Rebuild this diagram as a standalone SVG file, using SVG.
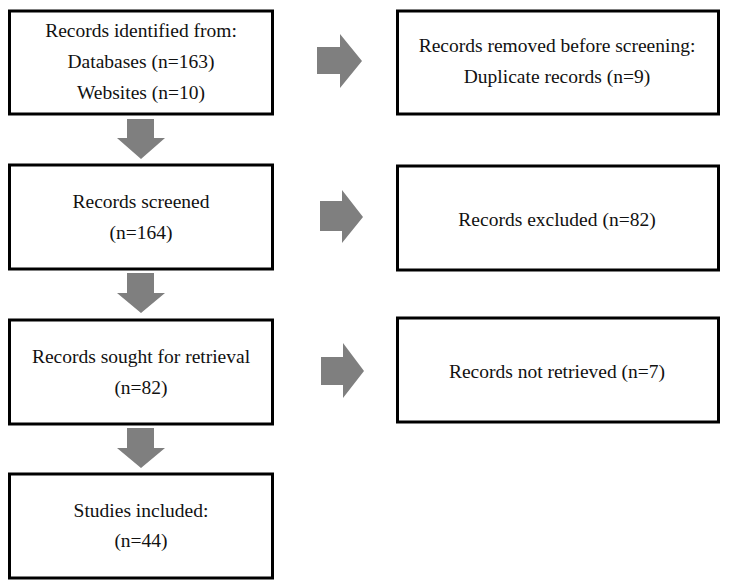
<svg xmlns="http://www.w3.org/2000/svg" width="729" height="587" viewBox="0 0 729 587">
<style>
.box{fill:#fff;stroke:#000;stroke-width:3}
.arr{fill:#7f7f7f}
text{font-family:"Liberation Serif","Times New Roman",serif;font-size:19.5px;fill:#111;text-anchor:middle}
</style>
<rect width="729" height="587" fill="#fff"/>
<g id="connectors">
<path class="arr" d="M127,119H154V138H165L141,159L117,138H127Z"/>
<path class="arr" d="M127,273H154V293H165L141,313L117,293H127Z"/>
<path class="arr" d="M127,428H154V448H165L141,468L117,448H127Z"/>
<path class="arr" d="M317,47H340V34L362,61L340,88V74H317Z"/>
<path class="arr" d="M320,201H342V190L363,217L342,243V231H320Z"/>
<path class="arr" d="M321,357H343V343L364,371L343,398V385H321Z"/>
</g>
<g id="identified">
<rect class="box" x="9.5" y="11" width="263" height="103"/>
<text x="141" y="37">Records identified from:</text>
<text x="141" y="68">Databases (n=163)</text>
<text x="141" y="99">Websites (n=10)</text>
</g>
<g id="screened">
<rect class="box" x="9.5" y="165" width="263" height="104"/>
<text x="141" y="208">Records screened</text>
<text x="141" y="239">(n=164)</text>
</g>
<g id="sought">
<rect class="box" x="9.5" y="320" width="263" height="104"/>
<text x="141" y="363">Records sought for retrieval</text>
<text x="141" y="394">(n=82)</text>
</g>
<g id="included">
<rect class="box" x="9.5" y="474" width="263" height="104"/>
<text x="141" y="517">Studies included:</text>
<text x="141" y="547">(n=44)</text>
</g>
<g id="removed">
<rect class="box" x="397.5" y="11" width="321" height="103"/>
<text x="557" y="52">Records removed before screening:</text>
<text x="557" y="83">Duplicate records (n=9)</text>
</g>
<g id="excluded">
<rect class="box" x="397.5" y="166" width="321" height="104"/>
<text x="557" y="226">Records excluded (n=82)</text>
</g>
<g id="notretrieved">
<rect class="box" x="397.5" y="318" width="321" height="104"/>
<text x="557" y="378">Records not retrieved (n=7)</text>
</g>
</svg>
